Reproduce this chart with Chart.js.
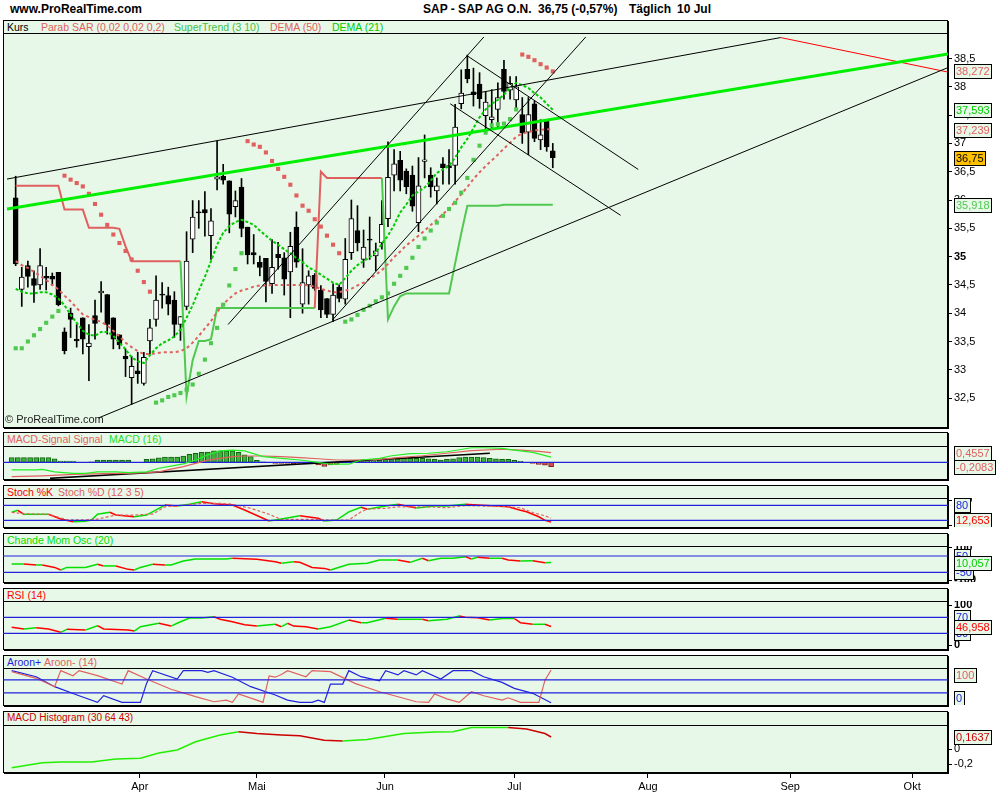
<!DOCTYPE html>
<html>
<head>
<meta charset="utf-8">
<title>SAP - SAP AG O.N.</title>
<script src="https://cdn.jsdelivr.net/npm/chart.js@4.4.0/dist/chart.umd.min.js"></script>
<style>
  body { margin: 0; width: 1000px; height: 800px; position: relative; overflow: hidden; background: #fff;
         font-family: "Liberation Sans", Arial, sans-serif; }
  .title { position: absolute; top: 2px; font-size: 12px; font-weight: bold; white-space: nowrap; }
  .panel { position: absolute; left: 3px; width: 945px; box-sizing: border-box; background: #e8f8e8;
           border: 1px solid #000; box-shadow: 1px 1px 0 #000; }
  .head { position: absolute; left: 0; right: 0; top: 0; border-bottom: 1px solid #000; font-size: 10.5px; }
  .head span { position: absolute; top: 0; white-space: nowrap; }
  canvas { position: absolute; left: 3px; }
  .copy { position: absolute; left: 5px; top: 413px; font-size: 11px; color: #222; }
</style>
</head>
<body>

<div class="title" style="left:10px">www.ProRealTime.com</div>
<div class="title" style="left:423px">SAP - SAP AG O.N.</div>
<div class="title" style="left:538px">36,75 (-0,57%)</div>
<div class="title" style="left:629px">Täglich</div>
<div class="title" style="left:677px">10 Jul</div>

<div class="panel" style="top:20px;height:408px">
  <div class="head" style="height:12px">
    <span style="left:3px;color:#000">Kurs</span>
    <span style="left:37px;color:#e06060">Parab SAR (0,02 0,02 0,2)</span>
    <span style="left:170px;color:#44c044">SuperTrend (3 10)</span>
    <span style="left:266px;color:#e06060">DEMA (50)</span>
    <span style="left:328px;color:#00cc00">DEMA (21)</span>
  </div>
</div>
<div class="panel" style="top:432px;height:48px">
  <div class="head" style="height:13px">
    <span style="left:3px;color:#e06060">MACD-Signal Signal</span>
    <span style="left:105px;color:#22dd22">MACD (16)</span>
  </div>
</div>
<div class="panel" style="top:485px;height:43px">
  <div class="head" style="height:12px">
    <span style="left:3px;color:#ff0000">Stoch %K</span>
    <span style="left:54px;color:#e06060">Stoch %D (12 3 5)</span>
  </div>
</div>
<div class="panel" style="top:533px;height:50px">
  <div class="head" style="height:12px">
    <span style="left:3px;color:#00dd00">Chande Mom Osc (20)</span>
  </div>
</div>
<div class="panel" style="top:588px;height:62px">
  <div class="head" style="height:12px">
    <span style="left:3px;color:#ff0000">RSI (14)</span>
  </div>
</div>
<div class="panel" style="top:655px;height:51px">
  <div class="head" style="height:12px">
    <span style="left:3px;color:#2222dd">Aroon+</span>
    <span style="left:40px;color:#e06060">Aroon- (14)</span>
  </div>
</div>
<div class="panel" style="top:711px;height:62px">
  <div class="head" style="height:13px">
    <span style="left:3px;color:#cc0000;font-size:10px">MACD Histogram (30 64 43)</span>
  </div>
</div>

<canvas id="mainChart" width="997" height="394" style="top:33px"></canvas>
<canvas id="macdChart" width="997" height="33" style="top:446px"></canvas>
<canvas id="stochChart" width="997" height="29" style="top:498px"></canvas>
<canvas id="cmoChart" width="997" height="36" style="top:546px"></canvas>
<canvas id="rsiChart" width="997" height="48" style="top:601px"></canvas>
<canvas id="aroonChart" width="997" height="37" style="top:668px"></canvas>
<canvas id="histChart" width="997" height="75" style="top:725px"></canvas>
<div class="copy">© ProRealTime.com</div>

<script>
// x runs in trading days, 0 = first candle (early March)
const X_MIN = -1.42;
const X_MAX = 152.75;

const opens = [36.04,34.42,34.84,34.61,34.50,34.65,34.65,34.72,33.67,34.00,
  33.54,33.92,33.41,33.96,34.36,34.33,33.92,33.62,33.24,32.86,
  32.98,32.76,33.51,33.89,34.33,34.31,34.23,33.80,34.12,35.31,
  35.79,35.83,35.37,36.37,36.42,36.34,35.88,36.23,35.52,35.07,
  34.90,34.97,34.52,35.04,34.98,34.73,35.52,34.16,34.50,34.67,
  34.41,34.26,33.98,34.46,34.25,35.07,35.46,34.95,35.31,35.01,
  35.24,35.67,36.44,36.70,36.51,36.44,35.60,36.68,36.44,36.16,
  36.64,36.61,36.61,37.70,38.31,37.91,38.05,37.49,37.42,37.60,
  38.31,37.94,37.77,37.51,37.20,37.70,37.06,37.39,36.87];
const highs = [36.42,34.81,34.92,34.75,35.14,34.81,34.71,34.72,33.74,34.09,
  33.80,33.92,33.80,34.23,34.56,34.33,33.92,33.62,33.37,33.24,
  33.31,33.31,33.89,34.66,34.54,34.46,34.38,33.94,35.44,35.99,
  35.99,36.15,35.85,37.04,36.63,36.34,36.16,36.38,35.52,35.39,
  35.01,34.97,35.30,35.25,35.07,35.43,35.79,35.14,34.75,34.70,
  34.49,34.26,34.52,34.50,35.32,36.00,35.90,35.47,35.70,35.24,
  35.99,37.03,36.89,36.86,36.55,36.60,36.75,37.15,36.57,36.39,
  36.75,36.89,37.69,38.30,38.56,38.33,38.25,37.92,37.95,38.07,
  38.47,38.18,38.18,37.81,37.81,37.75,37.42,37.42,37.00];
const lows = [34.84,34.12,34.46,34.19,34.42,34.41,34.49,34.13,33.28,33.57,
  33.40,33.28,32.81,33.54,34.02,33.63,33.37,33.37,32.88,32.39,
  32.76,32.73,33.28,33.77,34.09,33.97,33.57,33.52,34.06,35.07,
  35.50,35.36,34.95,36.18,36.28,35.42,35.70,35.35,34.87,34.87,
  34.66,34.20,34.35,34.78,34.32,33.92,34.81,34.00,34.16,34.40,
  33.92,33.92,33.85,34.20,34.16,34.95,35.10,34.81,34.95,34.75,
  35.13,35.53,36.16,36.16,36.11,35.80,35.44,36.39,36.05,35.93,
  36.28,36.28,36.28,37.61,38.07,37.66,37.62,37.20,37.26,37.29,
  37.78,37.78,37.63,37.00,36.80,37.03,36.89,36.86,36.57];
const closes = [34.87,34.64,34.65,34.49,34.84,34.62,34.60,34.15,33.34,33.89,
  33.51,33.54,33.47,33.82,34.39,33.80,33.54,33.44,33.19,33.06,
  32.93,33.22,33.74,34.23,34.32,34.16,33.80,33.94,34.92,35.70,
  35.77,35.77,35.63,36.41,36.35,35.75,35.99,35.50,35.03,35.03,
  34.81,34.56,34.81,34.98,34.60,35.18,34.90,34.54,34.66,34.44,
  34.06,33.98,34.32,34.26,34.95,35.67,35.24,35.17,35.29,35.10,
  35.57,36.40,36.64,36.35,36.23,35.89,36.25,36.71,36.23,36.25,
  36.57,36.57,37.29,37.89,38.14,37.86,37.79,37.73,37.47,37.81,
  37.92,38.06,38.00,37.19,37.51,37.09,37.15,36.94,36.75];

const parabSar = [33.38,33.38,33.50,33.61,33.72,33.83,33.94,34.04,
  36.43,36.36,36.30,36.24,36.11,35.93,35.74,35.56,35.39,35.24,35.10,34.95,34.75,34.55,34.38,
  32.42,32.46,32.52,32.55,32.59,32.65,32.74,32.93,33.18,33.47,33.74,34.15,34.49,34.78,35.06,
  37.04,36.98,36.94,36.84,36.69,36.55,36.41,36.27,36.08,35.90,35.81,35.66,35.53,35.37,35.21,35.06,
  33.85,33.89,33.97,34.06,34.13,34.21,34.28,34.35,34.52,34.66,34.80,34.98,35.17,35.32,35.46,
  35.60,35.72,35.84,35.95,36.13,36.39,36.71,36.96,37.19,37.32,37.34,37.35,37.43,37.60,
  38.57,38.53,38.47,38.40,38.34,38.272];

const superTrend = [36.25,36.25,36.25,36.25,36.25,36.25,36.25,36.25,
  35.83,35.83,35.83,35.83,35.51,35.51,35.51,35.51,35.51,35.49,35.18,
  34.92,34.92,34.92,34.92,34.92,34.92,34.92,34.92,34.92,
  32.53,33.17,33.51,33.51,33.54,
  34.09,34.09,34.09,34.09,34.09,34.09,34.09,34.09,34.09,34.09,34.09,34.09,34.09,34.09,34.09,34.09,34.09,
  36.50,36.39,36.39,36.39,36.39,36.39,36.39,36.39,36.39,36.39,36.39,
  33.89,34.12,34.30,34.35,34.35,34.35,34.35,34.35,34.35,34.35,34.35,
  34.88,35.41,35.90,35.90,35.90,35.90,35.90,35.90,
  35.918,35.918,35.918,35.918,35.918,35.918,35.918,35.918,35.918];

const dema50 = [34.92,34.85,34.80,34.73,34.66,34.59,34.50,34.42,34.31,34.21,
  34.09,33.98,33.93,33.88,33.85,33.78,33.69,33.59,33.48,33.40,
  33.33,33.28,33.28,33.29,33.31,33.31,33.31,33.33,33.38,33.48,
  33.60,33.73,33.86,34.02,34.16,34.26,34.35,34.40,34.43,34.47,
  34.49,34.49,34.50,34.50,34.50,34.50,34.50,34.50,34.49,34.47,
  34.43,34.40,34.37,34.37,34.40,34.43,34.49,34.54,34.61,34.68,
  34.76,34.87,34.99,35.09,35.20,35.28,35.37,35.46,35.56,35.65,
  35.75,35.85,35.97,36.10,36.23,36.37,36.49,36.60,36.70,36.80,
  36.91,37.01,37.12,37.17,37.20,37.23,37.24,37.25,37.239];

const dema21 = [34.43,34.38,34.35,34.35,34.37,34.37,34.33,34.26,34.14,33.97,
  33.83,33.69,33.62,33.60,33.67,33.67,33.60,33.48,33.36,33.22,
  33.15,33.12,33.26,33.38,33.47,33.52,33.59,33.71,33.92,34.14,
  34.40,34.64,34.92,35.21,35.42,35.54,35.61,35.65,35.61,35.56,
  35.46,35.37,35.28,35.21,35.13,35.06,34.97,34.90,34.81,34.75,
  34.68,34.61,34.54,34.50,34.62,34.75,34.85,34.92,34.99,35.07,
  35.23,35.37,35.56,35.78,35.92,36.08,36.15,36.22,36.34,36.48,
  36.54,36.60,36.75,36.93,37.08,37.27,37.46,37.60,37.70,37.77,
  37.86,37.98,38.07,38.03,37.98,37.89,37.81,37.70,37.593];

// hand drawn lines: [x1, price1, x2, price2]
const blackLines = [
  [-1.42, 36.37, 125.33, 38.87],
  [13.59, 32.15, 152.75, 38.34],
  [34.8, 33.80, 76.7, 38.88],
  [51.9, 33.88, 93.4, 38.88],
  [73.95, 38.55, 102.0, 36.54],
  [71.2, 37.70, 99.1, 35.73]
];
const greenLine = [-1.42, 35.84, 152.75, 38.58];
const redLine = [125.33, 38.87, 152.75, 38.26];
const macdTrendLine = [6.25, -0.76, 78.0, 0.43];

const priceTicks = [32.5,33,33.5,34,34.5,35,35.5,36,36.5,37,37.5,38,38.5];
const monthTicks = [20.9, 40.0, 60.9, 82.0, 103.8, 127.0, 146.9];
const monthNames = ['Apr','Mai','Jun','Jul','Aug','Sep','Okt'];

// MACD-Signal histogram (one per candle), MACD and signal lines as [day, value]
const macdHistBars = [0.22,0.22,0.22,0.22,0.22,0.22,0.22,0.17,0.06,0.06,
  0.06,0,0,0.02,0.11,0.11,0.11,0.11,0.11,0.11,
  0,0,0.14,0.17,0.21,0.25,0.25,0.25,0.30,0.38,
  0.43,0.47,0.49,0.54,0.54,0.54,0.54,0.47,0.35,0.27,
  0.10,0.02,0,-0.05,-0.05,-0.05,-0.06,-0.05,-0.07,-0.07,
  -0.12,-0.20,-0.12,-0.10,-0.02,0,0.02,0.06,0.06,0.06,
  0.11,0.13,0.13,0.16,0.19,0.19,0.19,0.19,0.16,0.14,
  0.11,0.14,0.17,0.22,0.25,0.25,0.25,0.22,0.19,0.17,
  0.14,0.14,0.09,0.05,-0.01,-0.05,-0.10,-0.14,-0.2083];
const macdLine = [[0,-0.36],[4,-0.36],[5,-0.33],[7,-0.45],[10,-0.52],[12,-0.52],[14,-0.45],[17,-0.45],
  [19,-0.49],[22,-0.45],[24,-0.28],[26,-0.18],[28,-0.07],[30,0.11],[32,0.35],[34,0.54],[36,0.58],
  [38,0.54],[41,0.27],[44,0.19],[47,0.11],[50,0.0],[52,-0.09],[55,-0.09],[57,0.11],[60,0.19],
  [62,0.31],[65,0.41],[68,0.43],[71,0.50],[75,0.69],[77,0.69],[80,0.66],[82,0.58],[85,0.47],[88,0.2474]];
const macdSignal = [[0,-0.68],[5,-0.64],[10,-0.57],[15,-0.54],[19,-0.52],[22,-0.49],[24,-0.45],
  [26,-0.32],[28,-0.2],[30,-0.05],[32,0.1],[34,0.19],[36,0.27],[38,0.3],[41,0.3],[44,0.27],[47,0.22],
  [50,0.17],[53,0.11],[56,0.11],[60,0.14],[63,0.22],[67,0.31],[71,0.43],[75,0.55],[80,0.62],
  [83,0.58],[86,0.52],[88,0.4557]];

const stochK = [[0,52],[1,60],[2,44],[6,44],[8,25],[10,14],[12,16],[13,21],[14,44],[16,52],[17,41],
  [20,34],[22,41],[24,68],[25,81],[27,77],[29,84],[31,94],[33,86],[36,81],[38,61],[41,28],[42,17],
  [44,25],[47,38],[50,28],[51,17],[53,21],[55,54],[57,72],[58,64],[61,77],[63,84],[66,69],[69,77],
  [71,77],[74,84],[76,81],[79,77],[81,74],[83,60],[84,54],[86,34],[87,20],[88,12.653]];
const stochD = [[0,52],[2,46],[6,44],[9,22],[12,22],[14,25],[17,41],[20,41],[23,45],[25,74],[28,81],
  [31,88],[34,88],[36,84],[39,68],[42,44],[44,23],[47,24],[50,24],[52,21],[55,21],[57,54],[58,65],
  [61,68],[63,74],[66,74],[68,74],[71,70],[74,79],[77,77],[80,77],[83,70],[85,51],[87,38],[88,28]];
const stochLevels = [80, 20];

const chandeMo = [[0,1],[2,1],[4,-5],[5,-5],[7,-20],[8,-36],[9,-20],[12,-20],[14,-1],[15,-11],[17,-11],
  [19,-32],[20,-36],[21,-20],[23,-1],[25,-5],[26,-5],[28,19],[30,32],[32,32],[35,32],[36,36],[40,30],
  [43,15],[44,5],[46,15],[47,11],[49,-20],[51,-26],[52,-36],[55,-1],[58,5],[60,25],[63,25],[65,11],
  [67,36],[68,21],[70,36],[72,36],[74,46],[75,32],[76,42],[78,36],[80,36],[81,25],[83,19],[85,21],
  [87,9],[88,10.057]];
const chandeLevels = [50, -50];

const rsi = [[0,45],[2,40.7],[4,44],[6,40.7],[8,32.5],[9,40],[12,38],[14,49],[15,40.7],[19,38],[20,35.7],
  [21,46.5],[24,55],[26,48],[27,55],[29,68],[31,68],[33,71.5],[34,65],[36,59],[38,51.5],[40,48],
  [43,52.5],[44,46.5],[45,55],[46,48],[48,46.5],[50,40.7],[52,46.5],[55,63],[57,56.5],[58,56.5],
  [61,67.5],[63,65],[67,65],[68,61.5],[71,65],[73,73],[74,70],[76,69],[78,63],[80,67],[82,67],
  [83,56.5],[85,52.5],[87,52.5],[88,46.958]];
const rsiLevels = [70, 30];

const aroonUp = [[0,98],[4,79.5],[7,49],[11,21.4],[14,1],[15,21.4],[18,1],[21,1],[22,59],[23,98],
  [27,72.5],[28,98],[31,98],[32,93],[33,98],[36,77.7],[39,49],[43,23.5],[45,8],[47,1],[49,1],[50,8],
  [51,1],[52,57],[54,57],[55,98],[57,79.5],[60,67],[61,98],[63,85],[64,98],[66,85],[67,98],[70,72.5],
  [72,98],[75,98],[77,79.5],[80,62],[82,44],[85,28.7],[88,0]];
const aroonDown = [[0,95],[4,74.6],[7,49],[8,98],[10,82.6],[11,98],[14,82.6],[18,57],[19,98],[22,72.5],
  [26,41],[30,18.4],[33,3],[35,8],[36,1],[37,26.6],[40,8],[41,1],[42,82],[43,78],[44,86],[45,98],
  [48,79.5],[49,98],[52,95],[56,59],[60,33.6],[62,23.5],[66,3],[68,1],[69,26.6],[71,11.6],[73,1],
  [75,33.6],[77,21.4],[80,8],[81,15],[83,1],[86,1],[87,69],[88,100]];
const aroonLevels = [70, 30];

const macdHistogram = [[0,-0.245],[2,-0.22],[5,-0.18],[8,-0.17],[13,-0.17],[17,-0.13],[21,-0.12],
  [24,-0.05],[27,-0.01],[30,0.10],[34,0.19],[37,0.235],[40,0.21],[44,0.19],[47,0.18],[51,0.12],
  [54,0.11],[58,0.13],[61,0.17],[64,0.21],[69,0.23],[72,0.235],[75,0.29],[81,0.29],[84,0.27],
  [87,0.21],[88,0.1637]];

const RED = '#e06060', GREEN = '#50c850', BLUE = '#2222dd', PANEL = '#e8f8e8';
const FONT = '"Liberation Sans", Arial, sans-serif';

Chart.defaults.font.family = FONT;
Chart.defaults.font.size = 11;
Chart.defaults.color = '#000';

function fmt(v) { return String(v).replace('.', ','); }
function series(arr) { return arr.map((v, i) => ({x: i, y: v})); }
function pairs(arr) { return arr.map(p => ({x: p[0], y: p[1]})); }
function seg(l) { return [{x: l[0], y: l[1]}, {x: l[2], y: l[3]}]; }
function level(v) { return [{x: X_MIN, y: v}, {x: X_MAX, y: v}]; }
const last = a => a[a.length - 1];
const lastPair = a => a[a.length - 1][1];

// value boxes on the right-hand side
const tagPlugin = {
  id: 'tags',
  afterDraw(chart, args, opts) {
    const list = opts.list || [];
    if (!list.length) return;
    const ctx = chart.ctx, ys = chart.scales.y, area = chart.chartArea;
    const x0 = area.right + 6;
    ctx.save();
    ctx.font = '11px ' + FONT;
    ctx.textBaseline = 'middle';
    list.forEach(t => {
      let py = ys.getPixelForValue(t.value);
      py = Math.max(area.top + 7, Math.min(area.bottom - 7, py));
      const top = Math.round(py - 7) + 0.5;
      const w = Math.ceil(ctx.measureText(t.text).width) + 3;
      ctx.fillStyle = t.bg || PANEL;
      ctx.fillRect(x0, top, w, 14);
      ctx.strokeStyle = '#000';
      ctx.lineWidth = 1;
      ctx.strokeRect(x0 + 0.5, top, w, 14);
      ctx.fillStyle = t.color;
      ctx.fillText(t.text, x0 + 2, top + 7.5);
    });
    ctx.restore();
  }
};
Chart.register(tagPlugin);

function makeChart(id, datasets, y, tags, showX) {
  const xScale = {
    type: 'linear', min: X_MIN, max: X_MAX, offset: false, display: !!showX,
    border: {display: false}
  };
  if (showX) {
    Object.assign(xScale, {
      position: 'bottom',
      afterFit: s => { s.height = 28; s.paddingLeft = 0; s.paddingRight = 0; },
      afterBuildTicks: s => { s.ticks = monthTicks.map(v => ({value: v})); },
      ticks: {callback: (v, i) => monthNames[i], autoSkip: false, maxRotation: 0, padding: 2, color: '#000'},
      grid: {drawOnChartArea: false, tickLength: 6, color: '#000'}
    });
  }
  return new Chart(document.getElementById(id), {
    type: 'line',
    data: {datasets},
    options: {
      responsive: false, animation: false, devicePixelRatio: 1, events: [],
      layout: {padding: 0},
      plugins: {legend: {display: false}, tooltip: {enabled: false}, tags: {list: tags}},
      scales: {
        x: xScale,
        y: {
          position: 'right', min: y.min, max: y.max,
          afterFit: s => { s.width = 52; s.paddingTop = 0; s.paddingBottom = 0; },
          afterBuildTicks: s => { s.ticks = y.ticks.map(v => ({value: v})); },
          ticks: {
            display: y.ticks.length > 0, padding: 2, color: '#000', autoSkip: false,
            callback: v => fmt(v),
            font: ctx => ({size: y.size || 11, weight: y.bold && y.bold(ctx.tick && ctx.tick.value) ? 'bold' : 'normal'})
          },
          grid: {drawOnChartArea: false, drawTicks: true, tickLength: 4, color: '#000'},
          border: {display: false}
        }
      }
    }
  });
}

function lineSet(data, color, width, extra) {
  return Object.assign({type: 'line', data, borderColor: color, borderWidth: width,
    pointRadius: 0, fill: false, tension: 0}, extra || {});
}
function upDown(up, down) {
  return {segment: {borderColor: c => c.p1.parsed.y >= c.p0.parsed.y ? up : down}};
}

// ---- main price chart
const mainSets = [];
blackLines.forEach(l => mainSets.push(lineSet(seg(l), '#000', 1, {order: 1})));
mainSets.push(lineSet(seg(greenLine), '#00ee00', 3, {order: 1}));
mainSets.push(lineSet(seg(redLine), '#ff0000', 1, {order: 1}));
mainSets.push({
  type: 'line', data: series(parabSar), showLine: false, order: 2,
  pointStyle: 'rect', pointRadius: 2.9, pointBorderWidth: 0,
  pointBackgroundColor: c => parabSar[c.dataIndex] > closes[c.dataIndex] ? RED : GREEN
});
mainSets.push(lineSet(series(dema21), '#00cc00', 2, {borderDash: [3, 2], order: 3}));
mainSets.push(lineSet(series(dema50), RED, 2, {borderDash: [3, 3], order: 3}));
mainSets.push(lineSet(series(superTrend), RED, 2, {order: 4,
  segment: {borderColor: c => superTrend[c.p1DataIndex] > closes[c.p1DataIndex] ? RED : GREEN}}));
mainSets.push({
  type: 'bar', grouped: false, order: 5, barThickness: 5, minBarLength: 1,
  data: opens.map((o, i) => ({x: i, y: [o, closes[i]]})),
  backgroundColor: opens.map((o, i) => closes[i] >= o ? '#ffffff' : '#000000'),
  borderColor: '#000', borderWidth: 1, borderSkipped: false
});
mainSets.push({
  type: 'bar', grouped: false, order: 6, barThickness: 1,
  data: lows.map((l, i) => ({x: i, y: [l, highs[i]]})),
  backgroundColor: '#000', borderWidth: 0
});
makeChart('mainChart', mainSets,
  {min: 32.06, max: 38.88, ticks: priceTicks, bold: v => v === 35},
  [
    {value: last(parabSar), text: fmt(last(parabSar)), color: RED},
    {value: last(dema21), text: fmt(last(dema21)), color: '#00cc00'},
    {value: last(dema50), text: fmt(last(dema50)), color: RED},
    {value: last(closes), text: fmt(last(closes)), color: '#000', bg: '#ffc000'},
    {value: last(superTrend), text: fmt(last(superTrend)), color: GREEN}
  ]);

// ---- MACD-Signal / Signal / MACD
makeChart('macdChart', [
  lineSet(level(0), BLUE, 1.2, {order: 4}),
  {type: 'bar', order: 5, barThickness: 5, data: series(macdHistBars),
   backgroundColor: macdHistBars.map(v => v >= 0 ? '#3cb43c' : '#d05050'),
   borderColor: macdHistBars.map(v => v >= 0 ? '#106010' : '#802020'), borderWidth: 1, borderSkipped: false},
  lineSet(pairs(macdSignal), RED, 1.2, {order: 2}),
  lineSet(pairs(macdLine), '#22ee22', 1.2, {order: 1}),
  lineSet(seg(macdTrendLine), '#000', 1.5, {order: 3})
], {min: -0.79, max: 0.773, ticks: []},
  [{value: lastPair(macdSignal), text: fmt(lastPair(macdSignal)), color: RED},
   {value: last(macdHistBars), text: fmt(last(macdHistBars)), color: RED}]);

// ---- Stochastic
makeChart('stochChart', [
  ...stochLevels.map(v => lineSet(level(v), BLUE, 1.2)),
  lineSet(pairs(stochD), RED, 1.2, {borderDash: [3, 2]}),
  lineSet(pairs(stochK), '#ff0000', 1.5, upDown('#00e000', '#ff0000'))
], {min: -6.8, max: 109.2, ticks: [100, 0], bold: () => true},
  [{value: 80, text: '80', color: BLUE}, {value: 20, text: '20', color: BLUE},
   {value: lastPair(stochK), text: fmt(lastPair(stochK)), color: '#ff0000'}]);

// ---- Chande momentum oscillator
makeChart('cmoChart', [
  ...chandeLevels.map(v => lineSet(level(v), BLUE, 1.2)),
  lineSet(pairs(chandeMo), '#ff0000', 1.5, upDown('#00e000', '#ff0000'))
], {min: -109.5, max: 111.3, ticks: [100, -100], bold: () => true},
  [{value: 50, text: '50', color: BLUE}, {value: -50, text: '-50', color: BLUE},
   {value: lastPair(chandeMo), text: fmt(lastPair(chandeMo)), color: '#00cc00'}]);

// ---- RSI
makeChart('rsiChart', [
  ...rsiLevels.map(v => lineSet(level(v), BLUE, 1.2)),
  lineSet(pairs(rsi), '#ff0000', 1.5, upDown('#00e000', '#ff0000'))
], {min: -9.25, max: 110.75, ticks: [100, 0], bold: () => true},
  [{value: 70, text: '70', color: BLUE}, {value: 30, text: '30', color: BLUE},
   {value: lastPair(rsi), text: fmt(lastPair(rsi)), color: '#ff0000'}]);

// ---- Aroon
makeChart('aroonChart', [
  ...aroonLevels.map(v => lineSet(level(v), BLUE, 1.2)),
  lineSet(pairs(aroonDown), RED, 1.2),
  lineSet(pairs(aroonUp), BLUE, 1.2)
], {min: -7, max: 106.1, ticks: []},
  [{value: 0, text: '0', color: BLUE}, {value: lastPair(aroonUp), text: fmt(lastPair(aroonUp)), color: BLUE},
   {value: lastPair(aroonDown), text: fmt(lastPair(aroonDown)), color: RED}]);

// ---- MACD histogram (30 64 43), carries the month axis
makeChart('histChart', [
  lineSet(pairs(macdHistogram), '#cc0000', 1.5, upDown('#22ee00', '#cc0000'))
], {min: -0.303, max: 0.324, ticks: [0, -0.2]},
  [{value: lastPair(macdHistogram), text: fmt(lastPair(macdHistogram)), color: '#cc0000'}], true);
</script>
</body>
</html>
